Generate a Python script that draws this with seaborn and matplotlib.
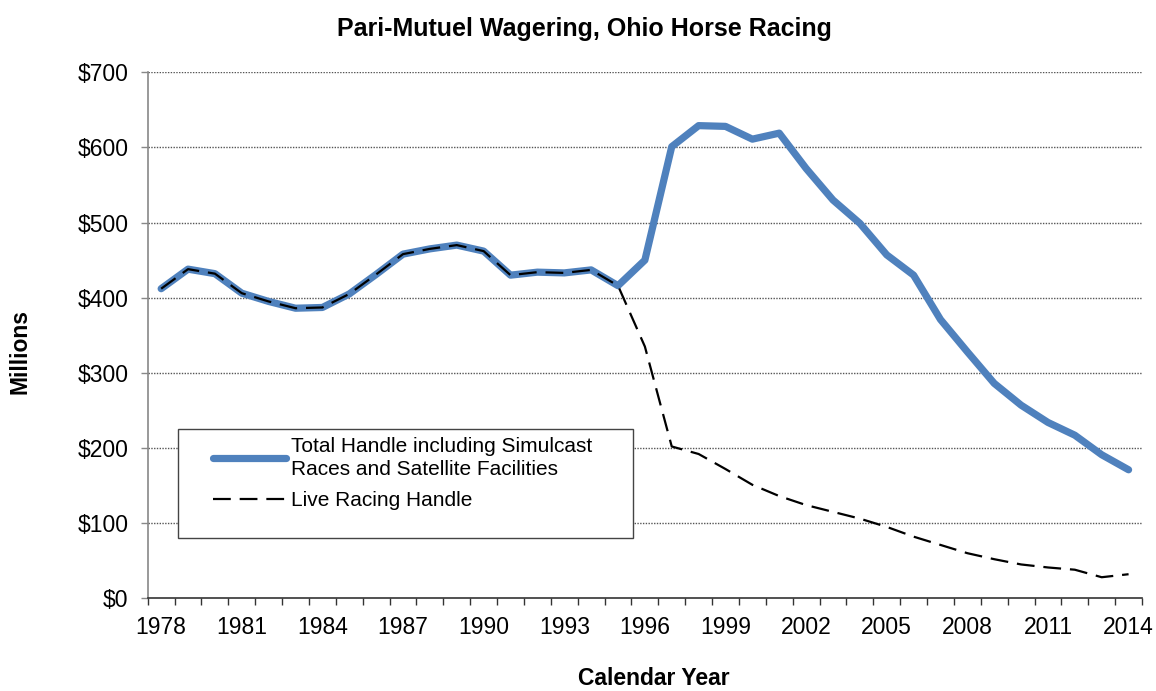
import matplotlib
matplotlib.use("Agg")
import matplotlib.pyplot as plt
from matplotlib.patches import Rectangle
import seaborn as sns
import pandas as pd
import numpy as np

years = list(range(1978, 2015))
total_handle = [412, 438, 432, 406, 395, 386, 387, 405, 431, 458, 465, 470, 462, 430, 434,
                433, 437, 416, 450, 601, 629, 628, 611, 619, 572, 530, 499, 457, 430, 371,
                328, 286, 257, 234, 217, 191, 171]
live_handle = [412, 438, 432, 406, 395, 386, 387, 405, 431, 458, 465, 470, 462, 430, 434,
               433, 437, 416, 335, 202, 192, 172, 151, 136, 124, 115, 106, 95, 82, 71,
               60, 52, 45, 41, 38, 28, 32]
label_total = "Total Handle including Simulcast\nRaces and Satellite Facilities"
label_live = "Live Racing Handle"
tick_years = list(range(1978, 2015, 3))
y_ticks = [0, 100, 200, 300, 400, 500, 600, 700]

sns.set_theme(style="white")
plt.rcParams['font.family'] = ['Liberation Sans', 'DejaVu Sans']
plt.rcParams['text.color'] = 'black'
plt.rcParams['xtick.color'] = 'black'
plt.rcParams['ytick.color'] = 'black'
plt.rcParams['axes.labelcolor'] = 'black'

df = pd.DataFrame({"year": years, "total": total_handle, "live": live_handle})

fig = plt.figure(figsize=(11.56, 6.91), dpi=100)
ax = fig.add_axes([0.1278, 0.1342, 0.8601, 0.7612])

sns.lineplot(data=df, x="year", y="total", ax=ax, color="#4F81BD", linewidth=5.2,
             label=label_total, solid_capstyle="round", solid_joinstyle="round", zorder=4)
sns.lineplot(data=df, x="year", y="live", ax=ax, color="black", linewidth=1.6,
             label=label_live, zorder=5)
ax.lines[1].set_dashes((8, 4))

ax.set_xlim(1977.5, 2014.5)
ax.set_ylim(0, 700)
ax.set_yticks(y_ticks)
ax.set_yticklabels([f"${v}" for v in y_ticks], fontsize=16.5)
ax.set_xticks(tick_years)
ax.set_xticklabels([str(y) for y in tick_years], fontsize=16.5)
ax.set_xticks(np.arange(1977.5, 2015, 1.0), minor=True)
ax.tick_params(axis="x", which="major", length=0, pad=13)
ax.tick_params(axis="x", which="minor", length=5, width=1, color="#333333", direction="out", bottom=True)
ax.tick_params(axis="y", which="major", length=5, width=1, color="#888888", direction="out", left=True, pad=9)

for v in y_ticks[1:]:
    ax.axhline(v, color="#555555", linestyle=(0, (1, 1)), linewidth=1.0, zorder=1)

for s in ["top", "right"]:
    ax.spines[s].set_visible(False)
ax.spines["left"].set_color("#888888")
ax.spines["left"].set_linewidth(1.2)
ax.spines["bottom"].set_color("#333333")
ax.spines["bottom"].set_linewidth(1.2)

ax.set_xlabel("Calendar Year", fontsize=16.5, fontweight="bold", va="center")
ax.xaxis.set_label_coords(0.509, -0.152)
ax.set_ylabel("Millions", fontsize=16.5, fontweight="bold", va="center")
ax.yaxis.set_label_coords(-0.128, 0.47)
ax.set_title("Pari-Mutuel Wagering, Ohio Horse Racing", fontsize=18, fontweight="bold",
             x=0.439, y=1.0, pad=26)

# legend box (fixed size, white filled)
box = Rectangle((0.0308, 0.114), 0.4576, 0.208, transform=ax.transAxes,
                facecolor="white", edgecolor="#444444", linewidth=1.0, zorder=6)
ax.add_patch(box)
leg = ax.legend(loc="upper left", bbox_to_anchor=((213 - 147.7) / 994.3, (598.3 - 437) / 526),
                fontsize=15, frameon=False, handlelength=3.5, borderaxespad=0, borderpad=0,
                labelspacing=0.6, handletextpad=0.25)
leg.set_zorder(7)
for t in leg.get_texts():
    t.set_linespacing(1.25)

fig.savefig("out.png", dpi=100)
